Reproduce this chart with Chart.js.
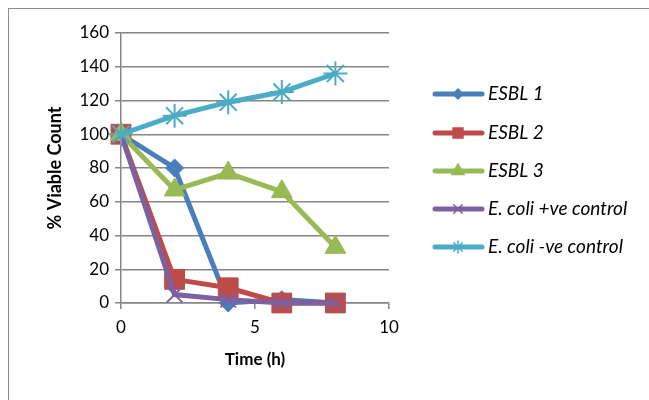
<!DOCTYPE html>
<html><head><meta charset="utf-8">
<script src="https://cdn.jsdelivr.net/npm/chart.js@4/dist/chart.umd.min.js"></script>
<style>
html,body{margin:0;padding:0;background:#fff;}
#wrap{position:relative;width:649px;height:400px;overflow:hidden;}
#frame{position:absolute;left:8px;top:8px;width:700px;height:500px;border:1px solid #8c8c8c;}
canvas{position:absolute;left:0;top:0;}
</style></head>
<body><div id="wrap"><div id="frame"></div><canvas id="c" width="649" height="400"></canvas></div>
<script>
const times = [0, 2, 4, 6, 8];
const seriesNames = ['ESBL 1', 'ESBL 2', 'ESBL 3', 'E. coli +ve control', 'E. coli -ve control'];
const esbl1 = [100, 80, 0, 2, 0];
const esbl2 = [100, 14, 9, 0, 0];
const esbl3 = [100, 67, 77, 66, 33];
const posControl = [100, 5, 2, 0, 0];
const negControl = [100, 111, 119, 125, 136];
const yTicks = [0, 20, 40, 60, 80, 100, 120, 140, 160];
const xTicks = [0, 5, 10];

const colors = ['#4A7EBB', '#BE4B48', '#98B954', '#7D60A0', '#4BACC6'];
const styles = ['rectRot', 'rect', 'triangle', 'crossRot', 'star'];
const radii = [9, 14, 12, 11, 12];
const legendRadii = [5, 7, 7, 6, 6];
const allData = [esbl1, esbl2, esbl3, posControl, negControl];

const datasets = allData.map((arr, i) => ({
  label: seriesNames[i],
  data: arr.map((v, j) => ({x: times[j], y: v})),
  borderColor: colors[i],
  backgroundColor: colors[i],
  pointBackgroundColor: colors[i],
  pointBorderColor: colors[i],
  pointStyle: styles[i],
  pointRadius: radii[i],
  pointBorderWidth: (styles[i] === 'crossRot' || styles[i] === 'star') ? 2 : 1,
  borderWidth: 5,
  tension: 0,
  clip: false,
  order: 5 - i
}));

const FONT = "Lato, 'Liberation Sans', sans-serif";

const legendPlugin = {
  id: 'customLegend',
  afterDraw(chart) {
    const ctx = chart.ctx;
    const ys = [94, 133, 171, 209, 247];
    ctx.save();
    chart.data.datasets.forEach((ds, i) => {
      const y = ys[i];
      ctx.strokeStyle = ds.borderColor;
      ctx.lineWidth = 5;
      ctx.lineCap = 'round';
      ctx.beginPath();
      ctx.moveTo(435, y);
      ctx.lineTo(482, y);
      ctx.stroke();
      ctx.fillStyle = ds.borderColor;
      ctx.strokeStyle = ds.borderColor;
      ctx.lineWidth = 1.5;
      Chart.helpers.drawPoint(ctx, {
        pointStyle: ds.pointStyle, radius: legendRadii[i], rotation: 0, borderWidth: 1.5
      }, 458, y);
      ctx.fillStyle = '#000';
      ctx.font = "italic 19px " + FONT;
      ctx.textBaseline = 'middle';
      ctx.textAlign = 'left';
      ctx.fillText(ds.label, 488, y);
    });
    ctx.restore();
  }
};

new Chart(document.getElementById('c'), {
  type: 'line',
  data: {datasets},
  options: {
    responsive: false,
    animation: false,
    devicePixelRatio: 1,
    layout: {padding: {left: 40, top: 33, right: 260, bottom: 30}},
    plugins: {legend: {display: false}, tooltip: {enabled: false}},
    scales: {
      x: {
        type: 'linear', min: 0, max: 10,
        afterBuildTicks(s) { s.ticks = xTicks.map(v => ({value: v})); },
        afterFit(s) { s.height = 67; },
        grid: {display: true, drawOnChartArea: false, color: '#868686', tickLength: 6, lineWidth: 1.5},
        border: {display: true, color: '#868686', width: 1.5},
        ticks: {color: '#000', font: {family: FONT, size: 17}, padding: 8, maxRotation: 0},
        title: {display: true, text: 'Time (h)', color: '#000', font: {family: FONT, size: 17, weight: 'bold'}, padding: {top: 0, bottom: 0}}
      },
      y: {
        min: 0, max: 160,
        afterBuildTicks(s) { s.ticks = yTicks.map(v => ({value: v})); },
        afterFit(s) { s.width = 81; },
        grid: {color: '#868686', tickLength: 6, lineWidth: 1.5},
        border: {display: true, color: '#868686', width: 1.5},
        ticks: {color: '#000', font: {family: FONT, size: 17}, padding: 6},
        title: {display: true, text: '% Viable Count', color: '#000', font: {family: FONT, size: 18, weight: 'bold'}, padding: {top: 4, bottom: 4}}
      }
    }
  },
  plugins: [legendPlugin]
});
</script></body></html>
